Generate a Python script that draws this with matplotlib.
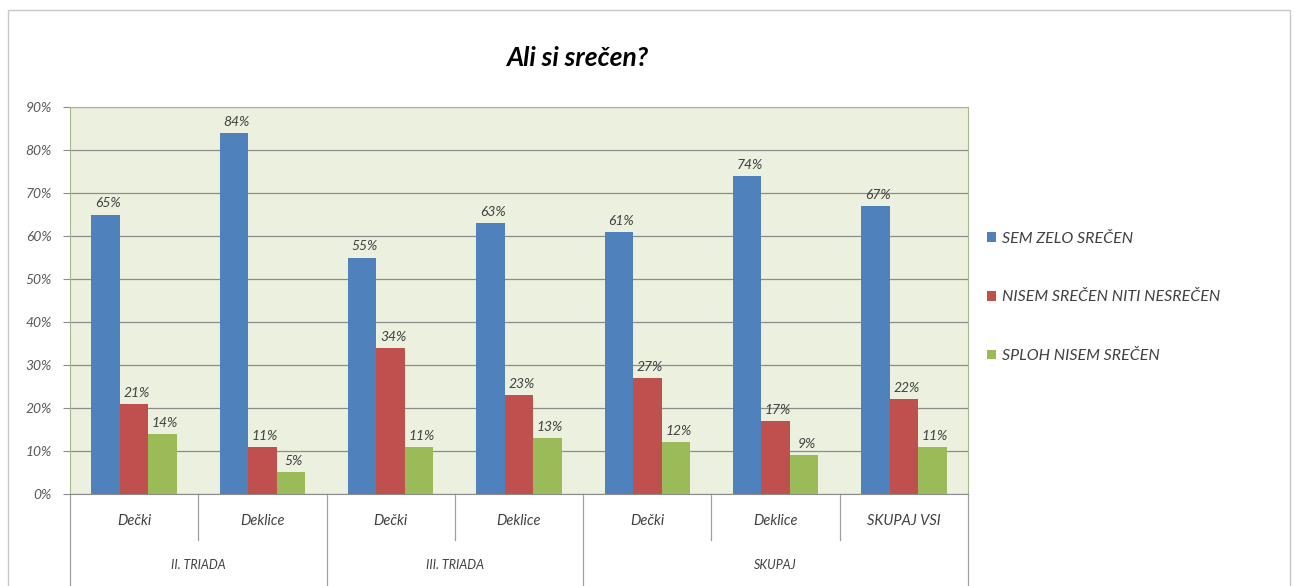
import numpy as np
import matplotlib.pyplot as plt
from matplotlib.transforms import blended_transform_factory
from matplotlib.patches import Rectangle

plt.rcParams['font.family'] = ['Lato', 'DejaVu Sans']

subgroups = ['Dečki', 'Deklice', 'Dečki', 'Deklice', 'Dečki', 'Deklice', 'SKUPAJ VSI']
groups = ['II. TRIADA', 'III. TRIADA', 'SKUPAJ']
group_sizes = [2, 2, 3]
series = ['SEM ZELO SREČEN', 'NISEM SREČEN NITI NESREČEN', 'SPLOH NISEM SREČEN']
zelo = [65, 84, 55, 63, 61, 74, 67]
niti = [21, 11, 34, 23, 27, 17, 22]
sploh = [14, 5, 11, 13, 12, 9, 11]
colors = ['#4F81BD', '#C0504D', '#9BBB59']

fig = plt.figure(figsize=(12.95, 5.86), dpi=100)
ax = fig.add_axes([0.054, 0.157, 0.6935, 0.6604])
ax.set_facecolor('#EBF1DE')

# outer frame like the Excel chart area
fig.patches.append(Rectangle((0.006, -0.01), 0.99, 0.993, transform=fig.transFigure,
                             fill=False, edgecolor='#C8C8C8', linewidth=1))

x = np.arange(len(subgroups))
w = 0.222
tr = blended_transform_factory(ax.transData, ax.transAxes)
for i, (vals, col, name) in enumerate(zip([zelo, niti, sploh], colors, series)):
    pos = x + (i - 1) * w
    ax.bar(pos, vals, width=w, color=col, label=name, zorder=3)
    for p, v in zip(pos, vals):
        ax.text(p + 0.02, v + 1.2, f'{v}%', ha='center', va='bottom', fontsize=10,
                style='italic', color='#404040', zorder=4)

ax.set_xlim(-0.5, len(subgroups) - 0.5)
ax.set_ylim(0, 90)
ax.set_yticks(np.arange(0, 91, 10))
ax.set_yticklabels([f'{t}%' for t in range(0, 91, 10)], fontsize=10, style='italic', color='#595959')
ax.yaxis.grid(True, color='#8C8C8C', linewidth=0.9, zorder=0)
ax.tick_params(axis='y', length=5, color='#8C8C8C', pad=8)
ax.set_xticks([])
for s in ['top', 'left', 'right']:
    ax.spines[s].set_color('#A6B98A')
    ax.spines[s].set_linewidth(0.8)
ax.spines['bottom'].set_color('#8C8C8C')

# two-level category axis
for xi, lab in zip(x, subgroups):
    ax.text(xi, -0.07, lab, transform=tr, ha='center', va='center', fontsize=10.5,
            style='italic', color='#404040')
bounds = np.cumsum([0] + group_sizes)
for b0, b1, g in zip(bounds[:-1], bounds[1:], groups):
    ax.text((b0 + b1 - 1) / 2, -0.183, g, transform=tr, ha='center', va='center',
            fontsize=9, style='italic', color='#404040')
for k in range(len(subgroups) + 1):
    outer = k in bounds
    ax.plot([k - 0.5, k - 0.5], [0, -0.24 if outer else -0.119], transform=tr,
            color='#A0A0A0', linewidth=0.9, clip_on=False)

fig.text(0.4456, 0.901, 'Ali si srečen?', fontsize=19, fontweight='bold', style='italic',
         color='black', ha='center', va='center')

leg = ax.legend(loc='center left', bbox_to_anchor=(1.005, 0.508), frameon=False,
                handlelength=0.55, handleheight=0.55, handletextpad=0.4,
                labelspacing=2.8, fontsize=11.5)
for t in leg.get_texts():
    t.set_style('italic')
    t.set_color('#404040')

fig.savefig('out.png', dpi=100)
